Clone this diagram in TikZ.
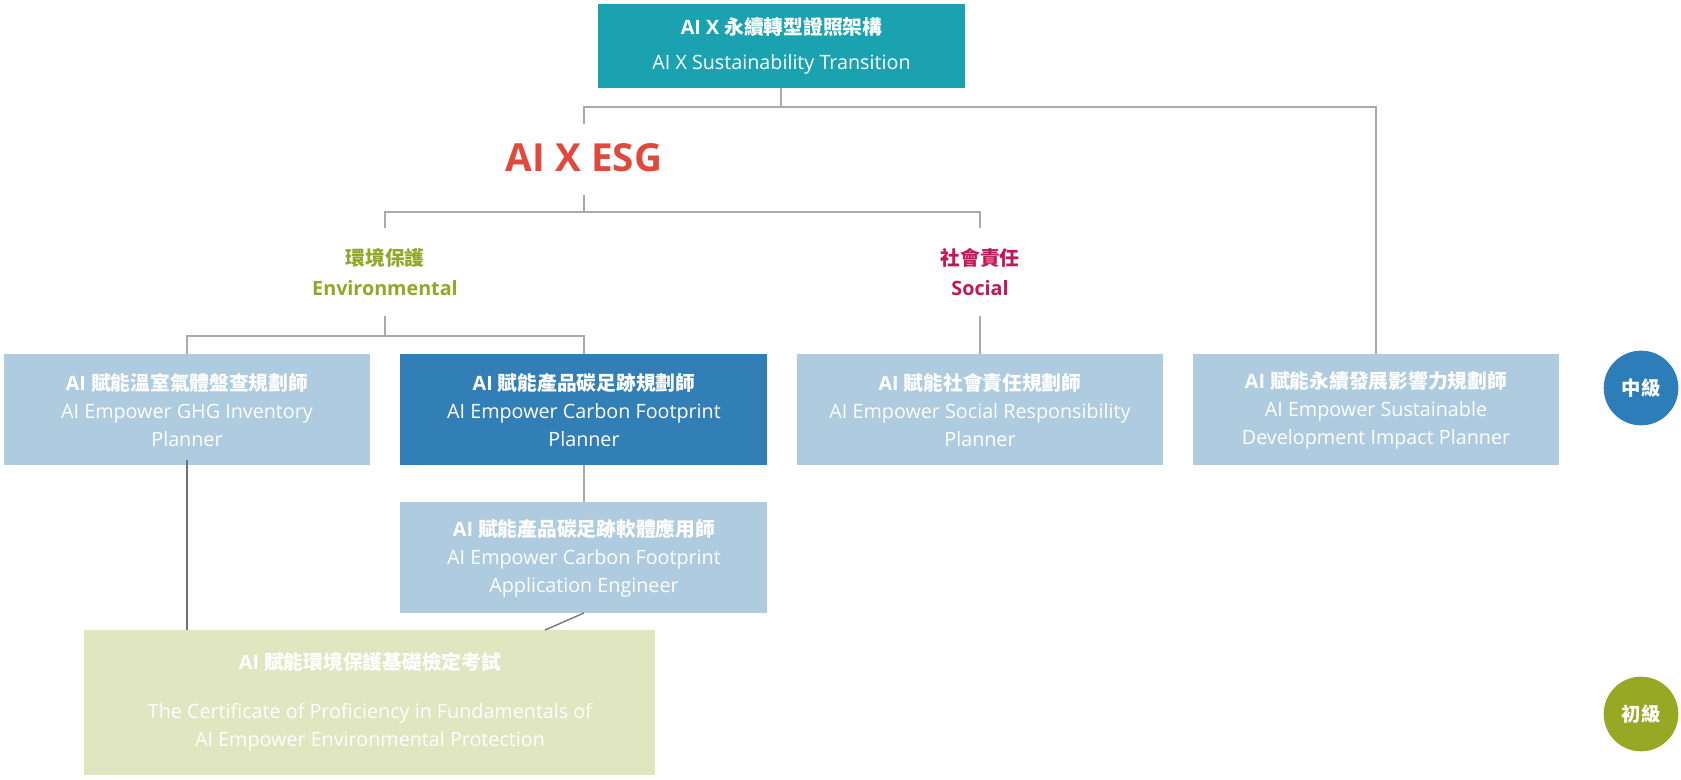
\documentclass[tikz,border=0pt]{standalone}
\usepackage{fontspec}
\setmainfont{Open Sans}
\newfontfamily\cjk{Noto Sans CJK TC}
\begin{document}
\begin{tikzpicture}[x=0.75pt,y=-0.75pt,
  txt/.style={align=center,text=white,font=\fontsize{14.8}{21}\selectfont},
  ln/.style={draw=lineg,line width=2pt},
  thin/.style={draw=gray!90!black,line width=1pt},
  circ/.style={circle,minimum size=56pt,inner sep=0pt,text=white,font=\cjk\bfseries\fontsize{14.5}{16}\selectfont}]
\definecolor{teal1}{HTML}{1BA2B0}
\definecolor{lblue}{HTML}{AECBE0}
\definecolor{dblue}{HTML}{327FB8}
\definecolor{lgreen}{HTML}{DFE6C0}
\definecolor{lineg}{HTML}{AAAAAA}
\definecolor{esgred}{HTML}{E04A3C}
\definecolor{olive}{HTML}{8FA828}
\definecolor{crim}{HTML}{C0185A}
\definecolor{circb}{HTML}{2D7DB8}
\definecolor{circg}{HTML}{96A824}
\useasboundingbox (0,0) rectangle (1681,780);
\newcommand{\cb}[1]{{\bfseries AI {\cjk #1}}}
% lines
\draw[ln] (781,88) -- (781,107) coordinate (t1);
\draw[ln] (584,124) -- (584,107) -- (1376,107) -- (1376,354);
\draw[ln] (584,195) -- (584,212);
\draw[ln] (385,228) -- (385,212) -- (980,212) -- (980,228);
\draw[ln] (385,316) -- (385,336);
\draw[ln] (187,354) -- (187,336) -- (584,336) -- (584,354);
\draw[ln] (980,316) -- (980,354);
\draw[ln] (584,465) -- (584,502);
% boxes
\fill[teal1] (598,4) rectangle (965,88);
\node (top) at (781.5,46) [txt,font=\fontsize{14.8}{26}\selectfont] {{\bfseries AI X {\cjk 永續轉型證照架構}}\\AI X Sustainability Transition};
\fill[lblue] (4,354) rectangle (370,465);
\node (b1) at (187,410) [txt] {\cb{賦能溫室氣體盤查規劃師}\\AI Empower GHG Inventory\\Planner};
\fill[dblue] (400,354) rectangle (767,465);
\node (b2) at (584,410) [txt] {\cb{賦能產品碳足跡規劃師}\\AI Empower Carbon Footprint\\Planner};
\fill[lblue] (797,354) rectangle (1163,465);
\node (b3) at (980,410) [txt] {\cb{賦能社會責任規劃師}\\AI Empower Social Responsibility\\Planner};
\fill[lblue] (1193,354) rectangle (1559,465);
\node (b4) at (1376,410) [txt] {\cb{賦能永續發展影響力規劃師}\\AI Empower Sustainable\\Development Impact Planner};
\fill[lblue] (400,502) rectangle (767,613);
\node (b5) at (584,558) [txt] {\cb{賦能產品碳足跡軟體應用師}\\AI Empower Carbon Footprint\\Application Engineer};
\fill[lgreen] (84,630) rectangle (655,775);
\node (g) at (370,702) [txt] {\cb{賦能環境保護基礎檢定考試}\\[16pt]The Certificate of Proficiency in Fundamentals of\\AI Empower Environmental Protection};
\draw[thin] (187,460) -- (187,630);
\draw[thin] (584,613) -- (545,630);
% labels
\node (esg) at (584,158) [text=esgred,font=\bfseries\fontsize{29}{32}\selectfont] {AI X ESG};
\node (env) at (385,272) [align=center,text=olive,font=\bfseries\fontsize{14.8}{23}\selectfont] {{\cjk 環境保護}\\Environmental};
\node (soc) at (980,272) [align=center,text=crim,font=\bfseries\fontsize{14.8}{23}\selectfont] {{\cjk 社會責任}\\Social};
\node[circ,fill=circb] (c1) at (1641,388) {中級};
\node[circ,fill=circg] (c2) at (1641,714) {初級};
\end{tikzpicture}
\end{document}
